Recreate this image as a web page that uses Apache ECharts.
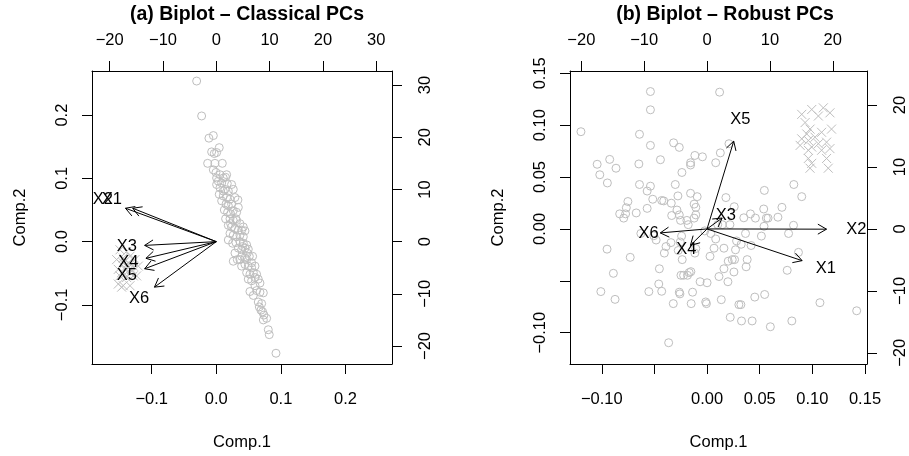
<!DOCTYPE html>
<html>
<head>
<meta charset="utf-8">
<script src="https://cdn.jsdelivr.net/npm/echarts@6/dist/echarts.min.js"></script>
<style>
html,body{margin:0;padding:0;background:#fff;}
#chart{width:909px;height:456px;}
</style>
</head>
<body>
<div id="chart"></div>
<script>
// ---------------- DATA ----------------
const titles = ['(a) Biplot \u2013 Classical PCs', '(b) Biplot \u2013 Robust PCs'];
const varNames = ['X1', 'X2', 'X3', 'X4', 'X5', 'X6'];

// Classical PCA scores (Comp.1, Comp.2)
const classicalScores = [
  [-0.0304,0.2539],[-0.0227,0.1987],[-0.0114,0.1636],[-0.0046,0.1677],[0.0046,0.1486],
  [-0.0072,0.1419],[-0.0031,0.1393],[0.0005,0.1409],[-0.0134,0.1238],[-0.0021,0.1238],
  [0.0093,0.1238],[-0.0046,0.1135],[-0.0005,0.1094],[0.0057,0.1058],[0.0005,0.1006],
  [0.0108,0.1006],[0.0144,0.1017],[0.0031,0.0955],[0.0083,0.0929],[0.0170,0.0918],
  [0.0057,0.0851],[0.0134,0.0826],[0.0186,0.0800],[0.0263,0.0826],[0.0046,0.0748],
  [0.0108,0.0722],[0.0160,0.0697],[0.0212,0.0671],[0.0083,0.0645],[0.0335,0.0660],
  [0.0150,0.0593],[0.0186,0.0568],[0.0237,0.0593],[0.0124,0.0501],[0.0175,0.0464],
  [0.0222,0.0439],[0.0263,0.0490],[0.0315,0.0464],[0.0144,0.0361],[0.0212,0.0361],
  [0.0263,0.0335],[0.0315,0.0335],[0.0366,0.0284],[0.0186,0.0258],[0.0237,0.0232],
  [0.0289,0.0206],[0.0341,0.0181],[0.0392,0.0181],[0.0444,0.0170],[0.0212,0.0129],
  [0.0263,0.0103],[0.0315,0.0077],[0.0366,0.0103],[0.0418,0.0077],[0.0253,-0.0026],
  [0.0304,-0.0015],[0.0366,0.0000],[0.0418,-0.0026],[0.0470,-0.0052],[0.0341,-0.0103],
  [0.0392,-0.0129],[0.0444,-0.0103],[0.0495,-0.0119],[0.0263,-0.0310],[0.0325,-0.0284],
  [0.0392,-0.0232],[0.0444,-0.0258],[0.0511,-0.0232],[0.0562,-0.0232],[0.0392,-0.0387],
  [0.0444,-0.0361],[0.0495,-0.0387],[0.0547,-0.0335],[0.0599,-0.0387],[0.0470,-0.0490],
  [0.0521,-0.0516],[0.0573,-0.0490],[0.0495,-0.0593],[0.0547,-0.0619],[0.0676,-0.0655],
  [0.0599,-0.0697],[0.0624,-0.0774],[0.0676,-0.0800],[0.0728,-0.0810],[0.0521,-0.0789],
  [0.0573,-0.0851],[0.0650,-0.0955],[0.0702,-0.0980],[0.0666,-0.1032],[0.0691,-0.1084],
  [0.0717,-0.1109],[0.0738,-0.1161],[0.0728,-0.1238],[0.0779,-0.1213],[0.0805,-0.1393],
  [0.0820,-0.1471],[0.0924,-0.1765],[0.0547,-0.0413],[0.0624,-0.0516],[0.0160,0.1058],
  [0.0237,0.0903],[0.0289,0.0697],[0.0341,0.0542],[0.0108,0.0800],[0.0005,0.0903],
  [0.0186,0.0026],[0.0289,-0.0181],[0.0366,-0.0284],[0.0470,-0.0284],[0.0599,-0.0568],
  [0.0650,-0.0593],[0.0222,0.0284],[0.0418,0.0232],[0.0304,0.0361],[0.0408,-0.0077],
  [0.0480,-0.0181]
];
// Classical PCA scores of the outlying observations (crosses)
const classicalOutliers = [
  [-0.1491,-0.0129],[-0.1388,-0.0155],[-0.1543,-0.0284],[-0.1440,-0.0258],[-0.1336,-0.0232],
  [-0.1259,-0.0284],[-0.1465,-0.0361],[-0.1362,-0.0335],[-0.1285,-0.0387],[-0.1517,-0.0439],
  [-0.1414,-0.0439],[-0.1336,-0.0490],[-0.1491,-0.0542],[-0.1388,-0.0568],[-0.1285,-0.0542],
  [-0.1517,-0.0671],[-0.1440,-0.0697],[-0.1336,-0.0697],[-0.1465,-0.0720],[-0.1233,-0.0542],
  [-0.1207,-0.0387],[-0.1440,-0.0335],[-0.1388,-0.0387],[-0.1414,-0.0516],[-0.1362,-0.0413],
  [-0.1465,-0.0490],[-0.1311,-0.0439]
];
// Classical loadings (label positions, top/right axis units)
const classicalLoadings = [
  [-19.6, 8.0], [-21.3, 8.0], [-16.8, -0.9], [-16.5, -4.0], [-16.8, -6.5], [-14.5, -10.9]
];

// Robust PCA scores (Comp.1, Comp.2)
const robustScores = [
  [-0.0538,0.1324],[0.0119,0.1318],[-0.0538,0.1148],[-0.1198,0.0937],[-0.0642,0.0912],
  [-0.0538,0.0805],[-0.0318,0.0830],[-0.0264,0.0786],[0.0208,0.0821],[0.0126,0.0733],
  [-0.0116,0.0708],[-0.0044,0.0695],[-0.0157,0.0638],[-0.0157,0.0616],[-0.0443,0.0667],
  [0.0082,0.0638],[-0.1044,0.0623],[-0.0865,0.0585],[-0.0925,0.0670],[-0.1019,0.0522],
  [-0.0947,0.0443],[-0.0648,0.0626],[-0.0239,0.0544],[-0.0302,0.0428],[-0.0157,0.0343],
  [-0.0094,0.0311],[-0.0642,0.0428],[-0.0538,0.0412],[-0.0569,0.0365],[-0.0516,0.0286],
  [-0.0431,0.0274],[-0.0412,0.0270],[-0.0340,0.0248],[-0.0277,0.0318],[-0.0752,0.0264],
  [-0.0767,0.0204],[-0.0774,0.0145],[-0.0830,0.0145],[-0.0792,0.0104],[-0.0673,0.0154],
  [-0.0569,0.0198],[-0.0286,0.0182],[-0.0264,0.0135],[-0.0336,0.0129],[-0.0252,0.0082],
  [-0.0192,0.0082],[-0.0179,0.0041],[-0.0123,0.0104],[-0.0107,0.0135],[-0.0107,0.0208],
  [-0.0123,0.0239],[0.0179,0.0302],[0.0258,0.0214],[0.0217,0.0041],[0.0145,0.0041],
  [0.0101,0.0041],[0.0349,0.0107],[0.0412,0.0145],[0.0459,0.0104],[0.0538,0.0192],
  [0.0563,0.0104],[0.0579,0.0104],[0.0673,0.0113],[0.0711,0.0208],[0.0544,0.0371],
  [0.0824,0.0428],[0.0899,0.0311],[0.0821,0.0035],[0.0774,-0.0044],[0.0516,-0.0069],
  [0.0365,-0.0044],[0.0280,-0.0116],[0.0418,-0.0160],[0.0270,-0.0201],[0.0324,-0.0148],
  [0.0082,-0.0097],[0.0035,-0.0044],[-0.0022,-0.0019],[-0.0242,-0.0069],[-0.0255,-0.0126],
  [-0.0343,-0.0132],[-0.0390,-0.0170],[-0.0406,-0.0233],[-0.0484,-0.0107],[-0.0506,-0.0066],
  [-0.0629,-0.0044],[-0.0274,-0.0208],[-0.0236,-0.0296],[-0.0116,-0.0233],[-0.0107,-0.0189],
  [0.0028,-0.0264],[0.0066,-0.0186],[0.0160,-0.0186],[0.0239,-0.0296],[0.0261,-0.0296],
  [0.0201,-0.0311],[0.0381,-0.0296],[0.0371,-0.0365],[0.0255,-0.0415],[0.0160,-0.0384],
  [0.0113,-0.0459],[0.0198,-0.0509],[-0.0066,-0.0509],[0.0000,-0.0519],[-0.0154,-0.0412],
  [-0.0170,-0.0421],[-0.0186,-0.0447],[-0.0223,-0.0447],[-0.0248,-0.0447],[-0.0453,-0.0384],
  [-0.0459,-0.0531],[-0.0431,-0.0601],[-0.0553,-0.0604],[-0.0730,-0.0274],[-0.0950,-0.0195],
  [-0.0890,-0.0428],[-0.1009,-0.0604],[-0.0874,-0.0679],[-0.0264,-0.0610],[-0.0138,-0.0610],
  [-0.0258,-0.0626],[-0.0321,-0.0720],[-0.0151,-0.0720],[-0.0013,-0.0704],[-0.0006,-0.0720],
  [0.0135,-0.0682],[0.0302,-0.0730],[0.0321,-0.0730],[0.0453,-0.0657],[0.0547,-0.0632],
  [0.0761,-0.0399],[0.0868,-0.0226],[0.1072,-0.0711],[0.1421,-0.0789],[0.0220,-0.0852],
  [0.0327,-0.0887],[0.0428,-0.0887],[0.0601,-0.0943],[0.0805,-0.0887],[-0.0365,-0.1097],
  [0.0541,0.0025]
];
// Robust PCA scores of the outlying observations (crosses)
const robustOutliers = [
  [0.0899,0.1104],[0.0994,0.1151],[0.1104,0.1167],[0.1167,0.1119],[0.0931,0.1025],
  [0.1057,0.1088],[0.0978,0.0962],[0.0947,0.0915],[0.0899,0.0868],[0.0962,0.0852],
  [0.1025,0.0884],[0.1088,0.0931],[0.1182,0.0962],[0.0884,0.0805],[0.0994,0.0789],
  [0.1057,0.0821],[0.1135,0.0836],[0.0962,0.0758],[0.1088,0.0758],[0.1167,0.0774],
  [0.0962,0.0679],[0.0994,0.0632],[0.1135,0.0679],[0.1151,0.0585],[0.0978,0.0585]
];
// Robust loadings (label positions, top/right axis units)
const robustLoadings = [
  [18.9, -6.4], [23.75, -0.05], [3.0, 2.2], [-3.3, -3.3], [5.3, 17.7], [-9.3, -0.8]
];

// Tick values
const classicalScoreTicks = [-0.1, 0, 0.1, 0.2];
const classicalLoadTicks = [-20, -10, 0, 10, 20, 30];
const robustScoreTicks = [-0.10, -0.05, 0, 0.05, 0.10, 0.15];
const robustScoreLabels = [-0.10, 0, 0.05, 0.10, 0.15];
const robustLoadTicks = [-20, -10, 0, 10, 20];

// ---------------- CHART ----------------
const FONT = "'Liberation Sans', Arial, Helvetica, sans-serif";
const FS = 16.5;
const GREY = '#BEBEBE';
const ARROW_FRAC = 0.8;

function fmt(dec) {
  return function (v) {
    const s = Math.abs(v).toFixed(dec);
    return (v < -1e-9 ? '\u2212' : '') + s;
  };
}

function axis(o) {
  const a = {
    type: 'value',
    gridIndex: o.grid,
    position: o.position,
    min: o.min,
    max: o.max,
    axisLine: { show: true, onZero: false, lineStyle: { color: '#000', width: 1 } },
    axisTick: { show: true, length: 10, customValues: o.ticks, lineStyle: { color: '#000', width: 1 } },
    axisLabel: {
      show: true, customValues: o.labels || o.ticks, formatter: fmt(o.dec),
      margin: o.margin, color: '#000', fontSize: FS, fontFamily: FONT,
      rotate: o.rotate || 0
    },
    splitLine: { show: false },
    silent: true
  };
  if (o.name) {
    a.name = o.name;
    a.nameLocation = 'middle';
    a.nameGap = o.nameGap;
    a.nameRotate = o.nameRotate;
    a.nameTextStyle = { color: '#000', fontSize: FS, fontFamily: FONT };
  }
  return a;
}

function arrowSeries(xi, yi, loadings) {
  return {
    type: 'custom',
    xAxisIndex: xi, yAxisIndex: yi,
    data: loadings,
    silent: true,
    clip: false,
    z: 10,
    renderItem: function (params, api) {
      const x = api.value(0), y = api.value(1);
      const o = api.coord([0, 0]);
      const t = api.coord([x * ARROW_FRAC, y * ARROW_FRAC]);
      const p = api.coord([x, y]);
      const ang = Math.atan2(t[1] - o[1], t[0] - o[0]);
      const L = 10, a = Math.PI / 6;
      const h1 = [t[0] - L * Math.cos(ang - a), t[1] - L * Math.sin(ang - a)];
      const h2 = [t[0] - L * Math.cos(ang + a), t[1] - L * Math.sin(ang + a)];
      return {
        type: 'group',
        children: [
          { type: 'line', shape: { x1: o[0], y1: o[1], x2: t[0], y2: t[1] },
            style: { stroke: '#000', lineWidth: 1 } },
          { type: 'polyline', shape: { points: [h1, t, h2] },
            style: { stroke: '#000', fill: null, lineWidth: 1 } },
          { type: 'text', x: p[0], y: p[1],
            style: { text: varNames[params.dataIndex], align: 'center', verticalAlign: 'middle',
                     fontSize: FS, fontFamily: FONT, fill: '#000' } }
        ]
      };
    }
  };
}

function scatter(xi, yi, data, cross) {
  return {
    type: 'scatter',
    xAxisIndex: xi, yAxisIndex: yi,
    data: data,
    silent: true,
    symbol: cross ? 'path://M0,0L10,10M10,0L0,10' : 'circle',
    symbolSize: cross ? 9 : 8,
    itemStyle: { color: 'transparent', borderColor: GREY, borderWidth: 1, opacity: 1 },
    emphasis: { disabled: true },
    z: 2
  };
}

const chart = echarts.init(document.getElementById('chart'), null, { renderer: 'canvas' });
chart.setOption({
  animation: false,
  backgroundColor: '#fff',
  title: [
    { text: titles[0], left: 242, top: 0, textAlign: 'center',
      textStyle: { fontSize: 19.5, fontWeight: 'bold', fontFamily: FONT, color: '#000' } },
    { text: titles[1], left: 720, top: 0, textAlign: 'center',
      textStyle: { fontSize: 19.5, fontWeight: 'bold', fontFamily: FONT, color: '#000' } }
  ],
  grid: [
    { left: 92, top: 71, width: 300, height: 299, containLabel: false },
    { left: 570, top: 71, width: 299, height: 299, containLabel: false }
  ],
  xAxis: [
    axis({ grid: 0, position: 'bottom', min: -0.1924, max: 0.272, ticks: classicalScoreTicks, dec: 1,
           margin: 27, name: 'Comp.1', nameGap: 70 }),
    axis({ grid: 0, position: 'top', min: -23.32, max: 32.97, ticks: classicalLoadTicks, dec: 0, margin: 22 }),
    axis({ grid: 1, position: 'bottom', min: -0.1302, max: 0.1519, ticks: robustScoreTicks,
           labels: robustScoreLabels, dec: 2, margin: 27, name: 'Comp.1', nameGap: 70 }),
    axis({ grid: 1, position: 'top', min: -21.8, max: 25.44, ticks: robustLoadTicks, dec: 0, margin: 22 })
  ],
  yAxis: [
    axis({ grid: 0, position: 'left', min: -0.1935, max: 0.2698, ticks: classicalScoreTicks, dec: 1,
           rotate: 90, margin: 21, name: 'Comp.2', nameGap: 63, nameRotate: 90 }),
    axis({ grid: 0, position: 'right', min: -23.45, max: 32.7, ticks: classicalLoadTicks, dec: 0,
           rotate: 90, margin: 25 }),
    axis({ grid: 1, position: 'left', min: -0.1302, max: 0.1522, ticks: robustScoreTicks,
           labels: robustScoreLabels, dec: 2, rotate: 90, margin: 21, name: 'Comp.2', nameGap: 63, nameRotate: 90 }),
    axis({ grid: 1, position: 'right', min: -21.8, max: 25.49, ticks: robustLoadTicks, dec: 0,
           rotate: 90, margin: 25 })
  ],
  series: [
    scatter(0, 0, classicalScores, false),
    scatter(0, 0, classicalOutliers, true),
    arrowSeries(1, 1, classicalLoadings),
    scatter(2, 2, robustScores, false),
    scatter(2, 2, robustOutliers, true),
    arrowSeries(3, 3, robustLoadings)
  ]
});
</script>
</body>
</html>
